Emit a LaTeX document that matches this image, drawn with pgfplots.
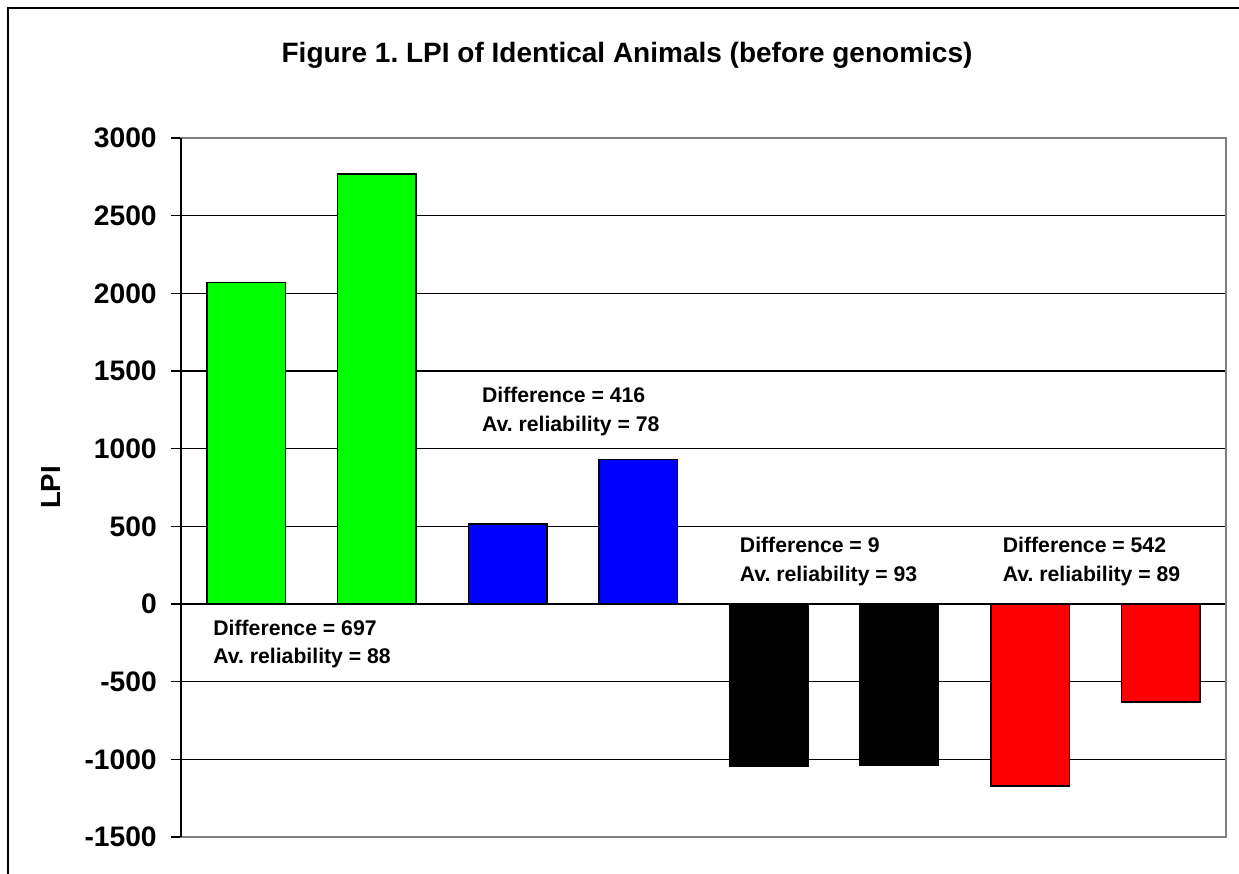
\documentclass[border=0pt]{standalone}
\usepackage{pgfplots}
\pgfplotsset{compat=1.18}
\usepackage{fontspec}
\setmainfont{Liberation Sans}
\frenchspacing
\definecolor{framegray}{HTML}{808080}
\definecolor{bargreen}{HTML}{00FF00}
\definecolor{barblue}{HTML}{0000FF}
\definecolor{barred}{HTML}{FF0000}
\begin{document}
\begin{tikzpicture}
\useasboundingbox (-90.5pt,-18.5pt) rectangle (529pt,418.5pt);
\draw[line width=1pt] (-86.5pt,-40pt) -- (-86.5pt,414.5pt) -- (560pt,414.5pt);
\begin{axis}[
  at={(0,0)}, anchor=south west,
  scale only axis, width=522.5pt, height=349.5pt,
  xmin=-0.5, xmax=7.5, ymin=-1500, ymax=3000,
  xtick=\empty,
  ytick={-1500,-1000,...,3000},
  yticklabels={-1500,-1000,-500,0,500,1000,1500,2000,2500,3000},
  ytick pos=left, tick align=outside,
  major tick length=4.75pt,
  tick style={black, line width=0.6pt},
  axis line style={draw=framegray, line width=0.9pt},
  ymajorgrids, major grid style={black, line width=0.6pt},
  yticklabel style={font=\bfseries\fontsize{14.1}{16}\selectfont, anchor=east, inner sep=0pt, xshift=-7.2pt},
  ylabel={LPI},
  ylabel style={at={(axis description cs:-0.1244,0.5)}, anchor=center, font=\bfseries\fontsize{13.8}{16}\selectfont, inner sep=0pt},
  every axis title shift=0pt,
  title={Figure 1. LPI of Identical Animals (before genomics)},
  title style={at={(axis description cs:0.4268,1.1087)}, anchor=base, font=\bfseries\fontsize{14}{16}\selectfont, inner sep=0pt},
  ybar, bar width=39.25pt,
  clip=false,
]
\addplot[ybar, bar shift=0pt, fill=bargreen, draw=black, line width=0.7pt] coordinates {(0,2070) (1,2767)};
\addplot[ybar, bar shift=0pt, fill=barblue, draw=black, line width=0.7pt] coordinates {(2,515) (3,931)};
\addplot[ybar, bar shift=0pt, fill=black, draw=black, line width=0.7pt] coordinates {(4,-1047) (5,-1038)};
\addplot[ybar, bar shift=0pt, fill=barred, draw=black, line width=0.7pt] coordinates {(6,-1172) (7,-630)};
\draw[black, line width=0.9pt] (rel axis cs:0,0) -- (rel axis cs:0,1);
\tikzset{ann/.style={anchor=base west, font=\bfseries\fontsize{10.6}{12}\selectfont, inner sep=0pt}}
\node[ann] at (axis cs:-0.255,-200) {Difference = 697};
\node[ann] at (axis cs:-0.255,-384) {Av. reliability = 88};
\node[ann] at (axis cs:1.802,1296) {Difference = 416};
\node[ann] at (axis cs:1.802,1113) {Av. reliability = 78};
\node[ann] at (axis cs:3.776,331) {Difference = 9};
\node[ann] at (axis cs:3.776,145) {Av. reliability = 93};
\node[ann] at (axis cs:5.789,331) {Difference = 542};
\node[ann] at (axis cs:5.789,145) {Av. reliability = 89};
\end{axis}
\end{tikzpicture}
\end{document}
